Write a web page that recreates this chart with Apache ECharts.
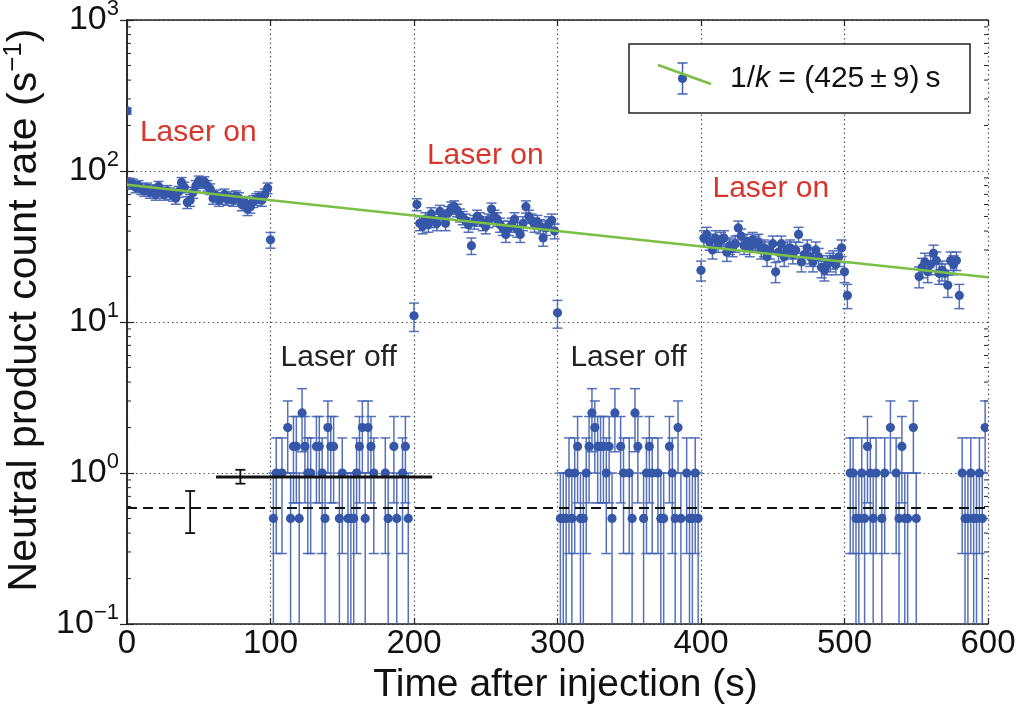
<!DOCTYPE html>
<html><head><meta charset="utf-8">
<script src="https://cdn.jsdelivr.net/npm/echarts@6/dist/echarts.min.js"></script>
<style>html,body{margin:0;padding:0;background:#fff}#c{width:1019px;height:710px}</style>
</head><body><div id="c"></div>
<script>
// ---------------- data ----------------
const BIN_SECONDS = 2; // each point is a 2 s bin (Poisson errors)
// laser-on segments: start time, then one rate per 2 s bin
const onStartA = 0;
const onRatesA = [250,
  83,82,78,80,76,74,77,72,75,70,
  79,72,70,74,71,69,66,73,84,78,
  62,64,72,80,86,83,85,80,76,66,
  69,64,66,70,65,67,64,68,66,60,
  62,56,58,63,65,67,64,70,77,
  35];
const onStartB = 200;
const onRatesB = [11,
  60,45,43,48,44,52,47,45,54,50,
  45,53,57,58,55,51,49,47,44,32,
  46,50,48,45,43,47,56,50,48,44,
  42,38,42,44,48,41,38,45,58,50,
  47,44,46,43,36,42,45,47,40,
  11.5];
const onStartC = 400;
const onRatesC = [22,
  36,38,34,30,36,33,35,36,29,32,
  31,33,42,37,32,34,31,35,33,34,
  30,31,27,30,33,21.5,29,33,27,30,
  31,28,30,38,25,28,31,27,25,30,
  27,23,22,24,25,26,24,27,31,
  21.5,15];
const onStartD = 552;
const onRatesD = [20,23,25,21.5,24,28.5,25.5,21,22,21,17.5,25.5,24,25.5,15];
// laser-off segments (null = empty bin)
const offStartA = 102;
const offRatesA = [0.5,1,null,1,null,2,0.5,1.5,1.5,0.5,
  2.5,1.5,1,1,null,1.5,1.5,1,0.5,2,
  1.5,1.5,null,0.5,1,null,0.5,0.5,0.5,1,
  1.5,2,0.5,2,1.5,1,null,null,null,1,
  0.5,null,1.5,0.5,null,1,1.5,0.5,null];
const offStartB = 302;
const offRatesB = [0.5,0.5,0.5,1,0.5,1,1.5,0.5,0.5,1,
  1.5,2.5,2,1.5,1.5,1.5,1,1.5,0.5,2.5,
  null,1.5,1,null,1,0.5,2.5,1.5,null,0.5,
  1,1.5,1,null,1,0.5,0.5,null,1.5,1,
  0.5,2,0.5,null,1,0.5,0.5,1,0.5];
const offStartC = 504;
const offRatesC = [1,1,0.5,0.5,1,0.5,1.5,1,0.5,1,
  null,0.5,1,null,2,null,1,0.5,1.5,0.5,
  0.5,null,2,0.5];
const offStartD = 582;
const offRatesD = [1,0.5,0.5,1,0.5,0.5,1,0.5,2];

// fit (1/k = 425 s) and reference levels
const fitLine = [[0, 81], [600, 19.8]];
const offMeanLine = [[62, 0.94], [212.7, 0.94]];
const offMeanBar = [[79, 0.94, 0.85, 1.05]];
const bgLevelLine = [[0, 0.586], [600, 0.586]];
const bgLevelBar = [[44, 0.586, 0.40, 0.76]];

// annotations
const annotOnPos = [[9, 178], [209, 126], [408, 76]];
const annotOnText = ['Laser on', 'Laser on', 'Laser on'];
const annotOffPos = [[107, 5.8], [309, 5.8]];
const annotOffText = ['Laser off', 'Laser off'];
const legendText = ['1/', 'k', ' = (425\u2009\u00b1\u20099)\u2009s'];

const xMin = 0, xMax = 600, xStep = 100;
const yMin = 0.1, yMax = 1000;
const xTitle = 'Time after injection (s)';
const yTitle = ['Neutral product count rate (s', '\u22121', ')'];

// ---------------- styling ----------------
const BLUE = '#3656a8';
const BAR = '#4262b2';
const GREEN = '#7bbf45';
const RED = '#d8352c';
const FONT = 'Liberation Sans, Arial, sans-serif';

function build(start, rates) {
  const out = [];
  rates.forEach((r, i) => { if (r != null) out.push([start + BIN_SECONDS * i, r]); });
  return out;
}
const points = [].concat(
  build(onStartA, onRatesA), build(onStartB, onRatesB), build(onStartC, onRatesC), build(onStartD, onRatesD),
  build(offStartA, offRatesA), build(offStartB, offRatesB), build(offStartC, offRatesC), build(offStartD, offRatesD)
);

const minorTickValues = [];
for (let d = yMin; d < yMax * 0.999; d *= 10) {
  for (let m = 2; m <= 9; m++) minorTickValues.push([d * m]);
}

const CAP = 5;
function errBarItem(params, api) {
  const t = api.value(0), r = api.value(1);
  const s = Math.sqrt(r * BIN_SECONDS) / BIN_SECONDS;
  const cs = params.coordSys;
  const hi = api.coord([t, r + s]);
  const hasLo = r - s > 1e-9;
  const lo = hasLo ? api.coord([t, r - s]) : [hi[0], cs.y + cs.height + 30];
  const st = { stroke: BAR, lineWidth: 1.5, opacity: 0.9 };
  const ch = [
    { type: 'line', shape: { x1: hi[0], y1: hi[1], x2: lo[0], y2: lo[1] }, style: st },
    { type: 'line', shape: { x1: hi[0] - CAP, y1: hi[1], x2: hi[0] + CAP, y2: hi[1] }, style: st }
  ];
  if (hasLo) ch.push({ type: 'line', shape: { x1: lo[0] - CAP, y1: lo[1], x2: lo[0] + CAP, y2: lo[1] }, style: st });
  return { type: 'group', children: ch };
}
function markerItem(params, api) {
  const p = api.coord([api.value(0), api.value(1)]);
  return { type: 'circle', shape: { cx: p[0], cy: p[1], r: 4.6 }, style: { fill: BLUE } };
}
function blackBarItem(params, api) {
  const t = api.value(0);
  const hi = api.coord([t, api.value(3)]);
  const lo = api.coord([t, api.value(2)]);
  const st = { stroke: '#111', lineWidth: 1.8 };
  const c = 5;
  return { type: 'group', children: [
    { type: 'line', shape: { x1: hi[0], y1: hi[1], x2: lo[0], y2: lo[1] }, style: st },
    { type: 'line', shape: { x1: hi[0] - c, y1: hi[1], x2: hi[0] + c, y2: hi[1] }, style: st },
    { type: 'line', shape: { x1: lo[0] - c, y1: lo[1], x2: lo[0] + c, y2: lo[1] }, style: st }
  ]};
}
function minorTickItem(params, api) {
  const v = api.value(0);
  const l = api.coord([xMin, v]);
  const r = api.coord([xMax, v]);
  const st = { stroke: '#222', lineWidth: 1 };
  return { type: 'group', children: [
    { type: 'line', shape: { x1: l[0], y1: l[1], x2: l[0] + 4, y2: l[1] }, style: st },
    { type: 'line', shape: { x1: r[0], y1: r[1], x2: r[0] - 4, y2: r[1] }, style: st }
  ]};
}
function textItem(texts, color) {
  return function (params, api) {
    const p = api.coord([api.value(0), api.value(1)]);
    return { type: 'text', style: { text: texts[params.dataIndex], x: p[0], y: p[1], fill: color,
      font: '30px ' + FONT, align: 'left', verticalAlign: 'middle' } };
  };
}

const supLabel = function (v) {
  const e = Math.round(Math.log10(v));
  return '{b|10}{s|' + (e < 0 ? '\u2212' + (-e) : e) + '}';
};

const frame = { show: true, lineStyle: { color: '#222', width: 1.5 } };
const option = {
  animation: false,
  backgroundColor: '#fff',
  grid: { left: 127, right: 31, top: 20, bottom: 86, containLabel: false, outerBoundsMode: 'none' },
  xAxis: [
    { type: 'value', min: xMin, max: xMax, interval: xStep, position: 'bottom',
      axisLine: frame, axisTick: { show: true, inside: true, length: 6, lineStyle: { color: '#222', width: 1.2 } },
      axisLabel: { fontSize: 33, color: '#111', fontFamily: FONT, margin: 3 },
      splitLine: { show: true, lineStyle: { color: '#555', width: 1.2, type: [1.5, 3] } },
      name: xTitle, nameLocation: 'middle', nameGap: 42,
      nameTextStyle: { fontSize: 39, color: '#111', fontFamily: FONT, padding: [0, 0, 0, 16] } },
    { type: 'value', min: xMin, max: xMax, interval: xStep, position: 'top',
      axisLine: frame, axisTick: { show: true, inside: true, length: 6, lineStyle: { color: '#222', width: 1.2 } },
      axisLabel: { show: false }, splitLine: { show: false } }
  ],
  yAxis: [
    { type: 'log', logBase: 10, min: yMin, max: yMax, position: 'left',
      axisLine: frame, axisTick: { show: true, inside: true, length: 7, lineStyle: { color: '#222', width: 1.2 } },
      axisLabel: { formatter: supLabel, margin: 8, color: '#111',
        rich: { b: { fontSize: 34, lineHeight: 44, fontFamily: FONT, color: '#111' },
                s: { fontSize: 22, lineHeight: 22, verticalAlign: 'top', fontFamily: FONT, color: '#111' } } },
      splitLine: { show: true, lineStyle: { color: '#555', width: 1.2, type: [1.5, 3] } },
      name: '{a|' + yTitle[0] + '}{s|' + yTitle[1] + '}{a|' + yTitle[2] + '}',
      nameLocation: 'middle', nameGap: 72, nameRotate: 90,
      nameTextStyle: { padding: [0, 0, 0, 24], rich: {
        a: { fontSize: 41, lineHeight: 48, fontFamily: FONT, color: '#111' },
        s: { fontSize: 26, lineHeight: 26, verticalAlign: 'top', fontFamily: FONT, color: '#111' } } } },
    { type: 'log', logBase: 10, min: yMin, max: yMax, position: 'right',
      axisLine: frame, axisTick: { show: true, inside: true, length: 7, lineStyle: { color: '#222', width: 1.2 } },
      axisLabel: { show: false }, splitLine: { show: false } }
  ],
  series: [
    { type: 'custom', name: 'minor ticks', data: minorTickValues, renderItem: minorTickItem, clip: false, silent: true, z: 1,
      encode: { y: 0 } },
    { type: 'custom', name: 'error bars', data: points, renderItem: errBarItem, clip: true, z: 2 },
    { type: 'custom', name: 'rates', data: points, renderItem: markerItem, clip: true, z: 3 },
    { type: 'line', name: 'fit', data: fitLine, showSymbol: false, lineStyle: { color: GREEN, width: 2.6 }, z: 5 },
    { type: 'line', name: 'off mean', data: offMeanLine, showSymbol: false, lineStyle: { color: '#111', width: 3 }, z: 5 },
    { type: 'custom', name: 'off mean bar', data: offMeanBar, renderItem: blackBarItem, z: 5 },
    { type: 'line', name: 'background', data: bgLevelLine, showSymbol: false, lineStyle: { color: '#111', width: 2, type: [10, 6] }, z: 5 },
    { type: 'custom', name: 'background bar', data: bgLevelBar, renderItem: blackBarItem, z: 5 },
    { type: 'custom', name: 'on labels', data: annotOnPos, renderItem: textItem(annotOnText, RED), z: 6 },
    { type: 'custom', name: 'off labels', data: annotOffPos, renderItem: textItem(annotOffText, '#222'), z: 6 }
  ],
  graphic: [
    { type: 'rect', shape: { x: 629, y: 44, width: 341, height: 69 }, style: { fill: '#fff', stroke: '#222', lineWidth: 1.5 }, z: 100 },
    { type: 'line', shape: { x1: 658, y1: 65, x2: 711, y2: 84 }, style: { stroke: GREEN, lineWidth: 2.6 }, z: 102 },
    { type: 'line', shape: { x1: 682.5, y1: 63, x2: 682.5, y2: 94 }, style: { stroke: BAR, lineWidth: 1.5 }, z: 101 },
    { type: 'line', shape: { x1: 677.5, y1: 63, x2: 687.5, y2: 63 }, style: { stroke: BAR, lineWidth: 1.5 }, z: 101 },
    { type: 'line', shape: { x1: 677.5, y1: 94, x2: 687.5, y2: 94 }, style: { stroke: BAR, lineWidth: 1.5 }, z: 101 },
    { type: 'circle', shape: { cx: 682.5, cy: 78.5, r: 4.6 }, style: { fill: BLUE }, z: 101 },
    { type: 'text', x: 730, y: 79, z: 103,
      style: { text: '{n|' + legendText[0] + '}{i|' + legendText[1] + '}{n|' + legendText[2] + '}',
        verticalAlign: 'middle', align: 'left',
        rich: { n: { fontSize: 30, fontFamily: FONT, fill: '#111' },
                i: { fontSize: 30, fontFamily: FONT, fontStyle: 'italic', fill: '#111' } } } }
  ]
};
const chart = echarts.init(document.getElementById('c'), null, { renderer: 'canvas' });
chart.setOption(option);
</script>
</body></html>
